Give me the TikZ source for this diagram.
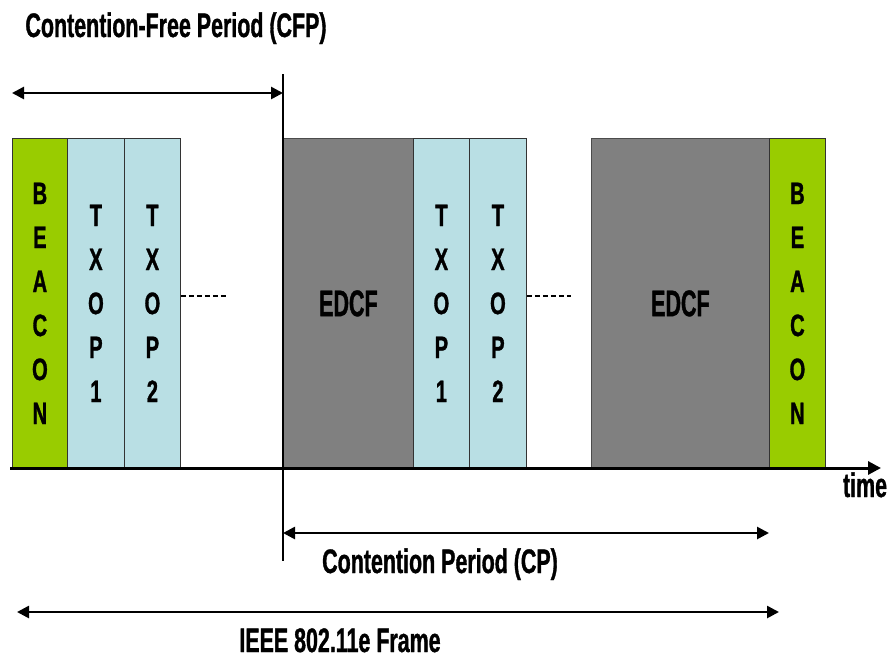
\documentclass[tikz,border=0pt]{standalone}
\usepackage{fontspec}
\setmainfont{Liberation Sans}[BoldFeatures={FakeBold=1}]
\newfontfamily\lblfont{Liberation Sans}[FakeStretch=0.63, BoldFeatures={FakeBold=1}]
\newfontfamily\boxfont{Liberation Sans}[FakeStretch=0.65, BoldFeatures={FakeBold=1}]
\newfontfamily\edcffont{Liberation Sans}[FakeStretch=0.58, BoldFeatures={FakeBold=1}]
\usetikzlibrary{arrows.meta}
\definecolor{beacongreen}{HTML}{99CC00}
\definecolor{txopblue}{HTML}{B9DFE4}
\definecolor{edcfgray}{HTML}{808080}
\tikzset{
  slot/.style={draw=black!80, line width=0.8pt, minimum height=330pt, anchor=north west, inner sep=0pt, align=center,
    font=\fontsize{31}{44}\boxfont\bfseries},
  beacon/.style={slot, fill=beacongreen},
  txop/.style={slot, fill=txopblue},
  edcf/.style={slot, fill=edcfgray, draw=black!70, font=\fontsize{37}{40}\edcffont\bfseries},
  lbl/.style={font=\fontsize{34}{38}\lblfont\bfseries, inner sep=0pt, anchor=base},
  span/.style={line width=2.6pt, {Triangle[length=12pt,width=12pt]}-{Triangle[length=12pt,width=12pt]}},
  gap/.style={line width=2.6pt, dash pattern=on 5pt off 3pt}
}
\begin{document}
\begin{tikzpicture}[x=1pt,y=-1pt]
\useasboundingbox (0,0) rectangle (893,662);
% slots
\node[beacon, minimum width=55pt] (b1) at (12,138) {B\\E\\A\\C\\O\\N};
\node[txop, minimum width=57pt] (t11) at (67,138) {T\\X\\O\\P\\1};
\node[txop, minimum width=56pt] (t12) at (124,138) {T\\X\\O\\P\\2};
\node[edcf, minimum width=130pt] (e1) at (283,138) {EDCF};
\node[txop, minimum width=56pt] (t21) at (413,138) {T\\X\\O\\P\\1};
\node[txop, minimum width=57pt] (t22) at (469,138) {T\\X\\O\\P\\2};
\node[edcf, minimum width=178pt] (e2) at (591,138) {EDCF};
\node[beacon, minimum width=56pt] (b2) at (769,138) {B\\E\\A\\C\\O\\N};
% gaps
\coordinate (g1) at (226,296);
\coordinate (g2) at (571,296);
\draw[gap] (g1 -| t12.east) -- (g1);
\draw[gap] (g2 -| t22.east) -- (g2);
% time axis
\coordinate (ax0) at (10,468);
\coordinate (ax1) at (881,468);
\draw[line width=3pt, -{Triangle[length=13pt,width=13pt]}] (ax0) -- (ax1);
\node[lbl] (time) at (865,497) {time};
% boundary line
\coordinate (v0) at (283,74);
\coordinate (v1) at (283,561);
\draw[line width=1.6pt] (v0) -- (v1);
% CFP
\coordinate (cfp0) at (12,93);
\coordinate (cfp1) at (283,93);
\draw[span] (cfp0) -- (cfp1);
\node[lbl] (cfpl) at (176,37) {Contention-Free Period (CFP)};
% CP
\coordinate (cp0) at (283,533);
\coordinate (cp1) at (769,533);
\draw[span] (cp0) -- (cp1);
\node[lbl] (cpl) at (440,573) {Contention Period (CP)};
% Frame
\coordinate (f0) at (17,612);
\coordinate (f1) at (779,612);
\draw[span] (f0) -- (f1);
\node[lbl] (fl) at (340,652) {IEEE 802.11e Frame};
\end{tikzpicture}
\end{document}
